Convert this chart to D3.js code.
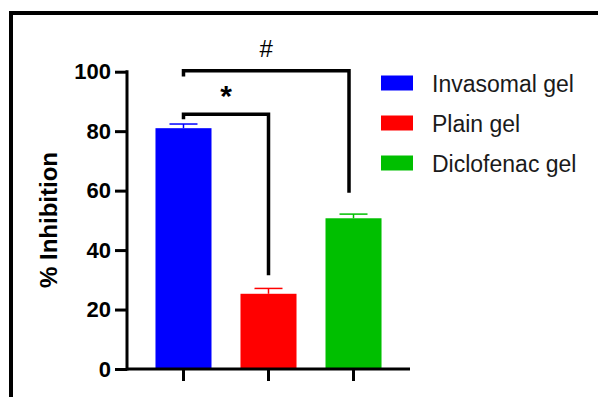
<!DOCTYPE html>
<html>
<head>
<meta charset="utf-8">
<script src="https://cdn.jsdelivr.net/npm/d3@7"></script>
<style>
  body { margin: 0; background: #fff; }
  text { font-family: Arial, "Liberation Sans", sans-serif; }
</style>
</head>
<body>
<div id="chart"></div>
<script>
// data
var groups = ["Invasomal gel", "Plain gel", "Diclofenac gel"];
var means = [81, 25.3, 50.7];
var errs = [1.4, 1.8, 1.4];
var colors = ["#0000ff", "#ff0000", "#00bf00"];
var yTicks = [0, 20, 40, 60, 80, 100];

// significance brackets (in % units)
var brackets = [
  {from: "Invasomal gel", to: "Plain gel", top: 85.7, leftEnd: 84, rightEnd: 31.5, label: "*", bold: true, shift: 0},
  {from: "Invasomal gel", to: "Diclofenac gel", top: 100.3, leftEnd: 98.4, rightEnd: 59.3, label: "#", bold: false, shift: -4.5}
];

var W = 598, H = 397;
var svg = d3.select("#chart").append("svg").attr("width", W).attr("height", H);

// frame (top + left only)
svg.append("line").attr("x1", 9).attr("x2", W).attr("y1", 13).attr("y2", 13).attr("stroke", "#000").attr("stroke-width", 4);
svg.append("line").attr("x1", 11).attr("x2", 11).attr("y1", 11).attr("y2", H).attr("stroke", "#000").attr("stroke-width", 4);

var x = d3.scaleBand().domain(groups).range([127, 410]).paddingInner(0.341).paddingOuter(0.335);
var y = d3.scaleLinear().domain([0, 100]).range([369, 71.7]);

// bars
svg.selectAll(".bar").data(groups).enter().append("rect")
    .attr("x", d => x(d))
    .attr("width", x.bandwidth())
    .attr("y", (d, i) => y(means[i]))
    .attr("height", (d, i) => y(0) - y(means[i]))
    .attr("fill", (d, i) => colors[i]);

// error bars
groups.forEach(function(g, i) {
    var cx = x(g) + x.bandwidth() / 2;
    svg.append("line").attr("x1", cx).attr("x2", cx)
        .attr("y1", y(means[i])).attr("y2", y(means[i] + errs[i]))
        .attr("stroke", colors[i]).attr("stroke-width", 1.5);
    svg.append("line").attr("x1", cx - 14).attr("x2", cx + 14)
        .attr("y1", y(means[i] + errs[i])).attr("y2", y(means[i] + errs[i]))
        .attr("stroke", colors[i]).attr("stroke-width", 1.5);
});

// axes
var yAxis = svg.append("g").attr("transform", "translate(127,0)")
    .call(d3.axisLeft(y).tickValues(yTicks).tickSize(12).tickSizeOuter(0).tickPadding(4));
var xAxis = svg.append("g").attr("transform", "translate(0,369)")
    .call(d3.axisBottom(x).tickSize(12).tickSizeOuter(0).tickFormat(""));
[yAxis, xAxis].forEach(function(a) {
    a.selectAll("path, line").attr("stroke", "#000").attr("stroke-width", 3);
});
yAxis.select(".domain").attr("d", "M0," + (y(0) + 1.5) + "V" + (y(100) - 1.5));
xAxis.select(".domain").attr("d", "M127,0H410");
yAxis.selectAll("text").attr("font-size", 22).attr("font-weight", "bold").attr("fill", "#000");

// y label
svg.append("text")
    .attr("transform", "translate(57,220) rotate(-90)")
    .attr("text-anchor", "middle")
    .attr("font-size", 24)
    .attr("font-weight", "bold")
    .text("% Inhibition");

// brackets
brackets.forEach(function(b) {
    var x1 = x(b.from) + x.bandwidth() / 2;
    var x2 = x(b.to) + x.bandwidth() / 2 + b.shift;
    svg.append("path")
        .attr("d", "M" + x1 + "," + y(b.leftEnd) + "V" + y(b.top) + "H" + x2 + "V" + y(b.rightEnd))
        .attr("fill", "none").attr("stroke", "#000").attr("stroke-width", 3.5);
    svg.append("text")
        .attr("x", (x1 + x2) / 2)
        .attr("y", y(b.top) - (b.bold ? 8 : 14))
        .attr("text-anchor", "middle")
        .attr("font-size", b.bold ? 30 : 24)
        .attr("font-weight", b.bold ? "bold" : "normal")
        .text(b.label);
});

// legend
var legend = svg.selectAll(".leg").data(groups).enter().append("g")
    .attr("transform", (d, i) => "translate(381," + (83 + i * 40) + ")");
legend.append("rect").attr("x", 0).attr("y", -7.5).attr("width", 32).attr("height", 15)
    .attr("fill", (d, i) => colors[i]);
legend.append("text").attr("x", 51).attr("y", 8.5).attr("font-size", 23).attr("fill", "#1a1a1a").text(d => d);
</script>
</body>
</html>
